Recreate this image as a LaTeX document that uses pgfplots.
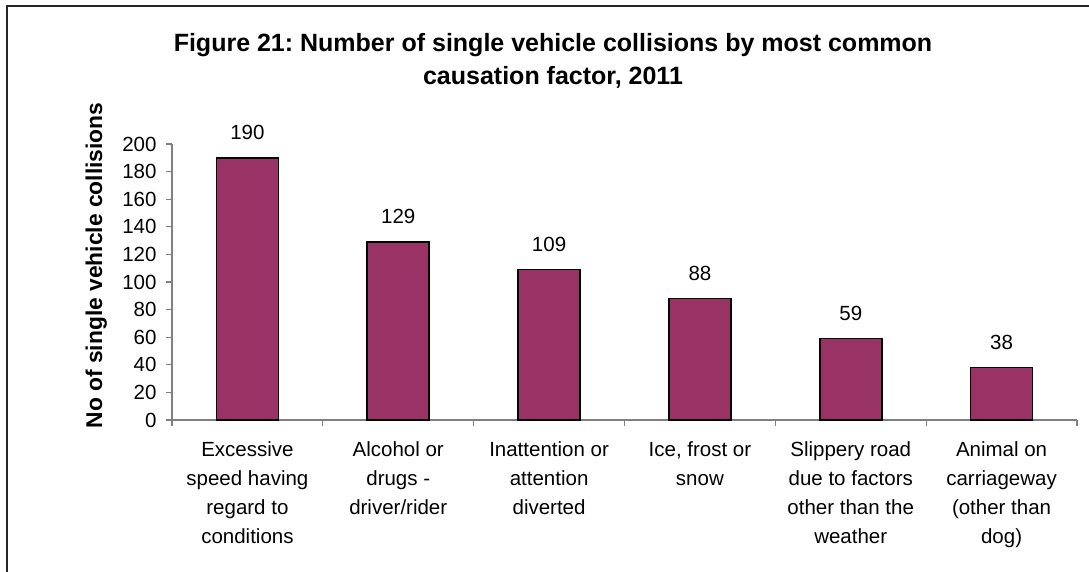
\documentclass[border=0pt]{standalone}
\usepackage{fontspec}
\setmainfont{Liberation Sans}
\usepackage{pgfplots}
\pgfplotsset{compat=1.18}
\frenchspacing
\definecolor{barc}{HTML}{993366}
\definecolor{axc}{HTML}{808080}
\newcommand{\tickfont}{\fontsize{20.5bp}{29bp}\selectfont}
\begin{document}
\begin{tikzpicture}
\useasboundingbox (0,0) rectangle (1089bp,572bp);
\fill[white] (0,0) rectangle (1089bp,572bp);
\draw[line width=1.5bp, black!85] (7bp,-2bp) -- (7bp,566bp) -- (1092bp,566bp);
\node[anchor=base, font=\fontsize{25bp}{33bp}\selectfont\bfseries] at (553bp,520bp) {Figure 21: Number of single vehicle collisions by most common};
\node[anchor=base, font=\fontsize{25bp}{33bp}\selectfont\bfseries] at (553bp,487bp) {causation factor, 2011};
\node[anchor=base, rotate=90, font=\fontsize{22.8bp}{28bp}\selectfont\bfseries] at (102bp,306.5bp) {No of single vehicle collisions};
\begin{axis}[
  at={(172bp,152bp)}, anchor=south west,
  scale only axis, width=905bp, height=276bp,
  xmin=0, xmax=6, ymin=0, ymax=200,
  axis x line*=bottom, axis y line*=left,
  axis line style={axc, line width=1.2bp},
  every tick/.style={axc, line width=1.2bp},
  tick align=outside,
  major tick length=6bp,
  ytick={0,20,...,200},
  xtick={0,...,6}, xticklabels={},
  extra x ticks={0.5,1.5,2.5,3.5,4.5,5.5},
  extra x tick labels={{Excessive\\speed having\\regard to\\conditions},{Alcohol or\\drugs -\\driver/rider},{Inattention or\\attention\\diverted},{Ice, frost or\\snow},{Slippery road\\due to factors\\other than the\\weather},{Animal on\\carriageway\\(other than\\dog)}},
  extra x tick style={major tick length=0pt, xticklabel style={align=center, anchor=north, font=\tickfont, yshift=-18bp}},
  /pgf/number format/assume math mode=true,
  yticklabel style={font=\tickfont, anchor=east, xshift=-6bp},
  ybar, bar width=62bp,
  nodes near coords,
  every node near coord/.style={font=\tickfont, anchor=base, yshift=18bp, black},
  clip=false,
]
\addplot[fill=barc, draw=black, line width=1.6bp] coordinates {(0.5,190) (1.5,129) (2.5,109) (3.5,88) (4.5,59) (5.5,38)};
\end{axis}
\end{tikzpicture}
\end{document}
